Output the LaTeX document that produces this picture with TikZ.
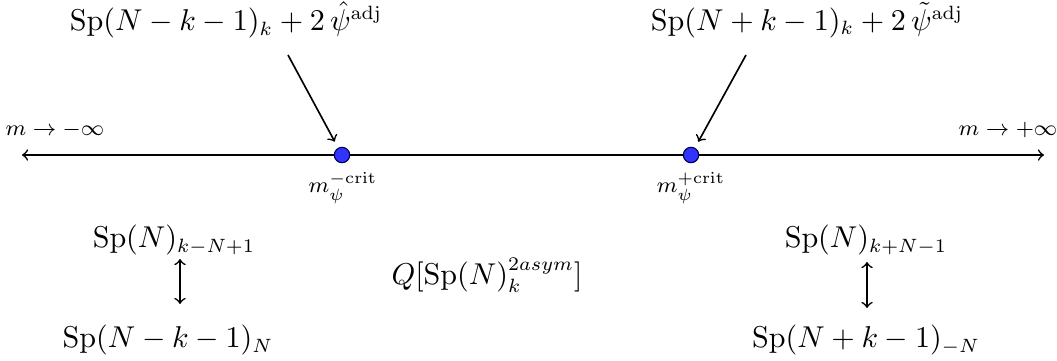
\documentclass[tikz,border=0pt]{standalone}
\usepackage{amsmath}
\usetikzlibrary{calc}
\begin{document}
\begin{tikzpicture}[x=0.3636pt,y=-0.3636pt,
  lbl/.style={inner sep=0pt,font=\fontsize{10.5}{12.6}\selectfont},
  small/.style={inner sep=0pt,font=\fontsize{8.2}{10}\selectfont},
  dot/.style={circle,fill=blue!80,draw=blue!30!black,inner sep=0pt,minimum size=5.6pt},
  axis/.style={semithick,->},
  pointer/.style={semithick,->,shorten >=2.5pt},
  dual/.style={semithick,<->}]
\useasboundingbox (0,0) rectangle (1057,360);
% axis
\coordinate (L) at (22,155);
\coordinate (R) at (1044,155);
\node[dot] (d1) at (342,155) {};
\node[dot] (d2) at (691,155) {};
\draw[axis] (d1) -- (L);
\draw[semithick] (d1) -- (d2);
\draw[axis] (d2) -- (R);
% end labels
\node[small] (ml) at (55,130) {$m\to-\infty$};
\node[small] (mr) at (1008,130) {$m\to+\infty$};
\node[small] (c1) at (343,188) {$m_\psi^{-\mathrm{crit}}$};
\node[small] (c2) at (691,188) {$m_\psi^{+\mathrm{crit}}$};
% top labels
\node[lbl] (t1) at (226,20) {$\mathrm{Sp}(N-k-1)_k+2\,\hat\psi^{\mathrm{adj}}$};
\node[lbl] (t2) at (807,20) {$\mathrm{Sp}(N+k-1)_k+2\,\tilde\psi^{\mathrm{adj}}$};
\coordinate (a1) at (288,55);
\coordinate (a2) at (746,55);
\draw[pointer] (a1) -- (d1);
\draw[pointer] (a2) -- (d2);
% lower left
\node[lbl] (b1) at (174,240) {$\mathrm{Sp}(N)_{k-N+1}$};
\node[lbl] (b2) at (168,340) {$\mathrm{Sp}(N-k-1)_N$};
\coordinate (u1) at (180,259);
\coordinate (v1) at (180,304);
\draw[dual] (u1) -- (v1);
% middle
\node[lbl] (q) at (487,275) {$Q[\mathrm{Sp}(N)_k^{2asym}]$};
% lower right
\node[lbl] (b3) at (866,240) {$\mathrm{Sp}(N)_{k+N-1}$};
\node[lbl] (b4) at (866,340) {$\mathrm{Sp}(N+k-1)_{-N}$};
\coordinate (u2) at (867,262);
\coordinate (v2) at (867,308);
\draw[dual] (u2) -- (v2);
\end{tikzpicture}
\end{document}
